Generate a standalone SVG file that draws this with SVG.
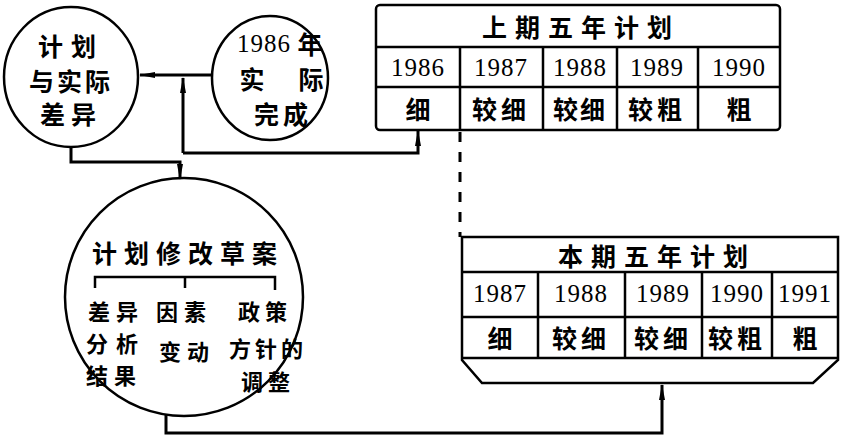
<svg xmlns="http://www.w3.org/2000/svg" width="841" height="436" viewBox="0 0 841 436">
<style>
.bg{fill:#fff}
.ln{fill:none;stroke:#000;stroke-width:2.5}
.cn{fill:none;stroke:#000;stroke-width:3}
.ds{fill:none;stroke:#000;stroke-width:3;stroke-dasharray:10 10}
.cj{font-family:"Noto Sans CJK SC","Noto Sans",sans-serif;font-weight:700;font-size:25px;fill:#000;text-anchor:middle;dominant-baseline:central}
.sm{font-size:22px}
.nm{font-family:"Liberation Serif","DejaVu Serif",serif;font-size:25px;fill:#000;text-anchor:middle;dominant-baseline:central;letter-spacing:1px}
</style>
<defs>
<marker id="ah" viewBox="0 0 16 8" markerWidth="16" markerHeight="8" refX="15" refY="4" orient="auto" markerUnits="userSpaceOnUse">
<path d="M0,1 L16,4 L0,7 Z" fill="#000"/>
</marker>
</defs>
<rect class="bg" x="0" y="0" width="841" height="436"/>

<g id="connectors">
<path class="cn" d="M212,75 H140" marker-end="url(#ah)"/>
<path class="cn" d="M183,153 V78" marker-end="url(#ah)"/>
<path class="cn" d="M183,153 H418 V131" marker-end="url(#ah)"/>
<path class="cn" d="M71,146 V162 H180 V179" marker-end="url(#ah)"/>
<path class="cn" d="M166,414 V433 H662 V385" marker-end="url(#ah)"/>
<path class="ds" d="M460,132 V237"/>
</g>

<g id="node-diff">
<ellipse class="ln" cx="71" cy="77" rx="67" ry="70"/>
<text class="cj" x="71" y="45" font-size="26" letter-spacing="8">计划</text>
<text class="cj" x="71" y="80" font-size="26" letter-spacing="3">与实际</text>
<text class="cj" x="71" y="113" font-size="26" letter-spacing="6">差异</text>
</g>

<g id="node-actual">
<ellipse class="ln" cx="270" cy="78" rx="58" ry="62"/>
<text class="nm" x="264" y="43" font-size="27">1986</text>
<text class="cj" x="310" y="43" font-size="26">年</text>
<text class="cj" x="252" y="78" font-size="26">实</text>
<text class="cj" x="311" y="78" font-size="26">际</text>
<text class="cj" x="283" y="113" font-size="26" letter-spacing="4">完成</text>
</g>

<g id="node-prev-plan">
<rect class="ln" x="376" y="5" width="404" height="125" rx="4"/>
<path class="ln" d="M376,47 H780 M376,87 H780 M460,47 V130 M543,47 V130 M617,47 V130 M698,47 V130"/>
<text class="cj" x="581" y="26" font-weight="400" letter-spacing="8">上期五年计划</text>
<text class="nm" x="418" y="67">1986</text>
<text class="nm" x="501" y="67">1987</text>
<text class="nm" x="580" y="67">1988</text>
<text class="nm" x="657" y="67">1989</text>
<text class="nm" x="739" y="67">1990</text>
<text class="cj" x="418" y="108">细</text>
<text class="cj" x="501" y="108" letter-spacing="4">较细</text>
<text class="cj" x="580" y="108" letter-spacing="2">较细</text>
<text class="cj" x="657" y="108" letter-spacing="4">较粗</text>
<text class="cj" x="739" y="108">粗</text>
</g>

<g id="node-curr-plan">
<path class="ln" d="M462,237 H838 V360 L813,383 H482 L462,360 Z"/>
<path class="ln" d="M462,272 H838 M462,317 H838 M462,358 H838 M538,272 V358 M625,272 V358 M702,272 V358 M772,272 V358"/>
<text class="cj" x="657" y="255" letter-spacing="8">本期五年计划</text>
<text class="nm" x="500" y="293">1987</text>
<text class="nm" x="581" y="293">1988</text>
<text class="nm" x="663" y="293">1989</text>
<text class="nm" x="737" y="293">1990</text>
<text class="nm" x="805" y="293" letter-spacing="0">1991</text>
<text class="cj" x="500" y="337">细</text>
<text class="cj" x="581" y="337" letter-spacing="4">较细</text>
<text class="cj" x="663" y="337" letter-spacing="4">较细</text>
<text class="cj" x="737" y="337" letter-spacing="4">较粗</text>
<text class="cj" x="805" y="337">粗</text>
</g>

<g id="node-revision">
<circle class="ln" cx="184" cy="297" r="119"/>
<text class="cj" x="188" y="252" letter-spacing="7">计划修改草案</text>
<path class="ln" d="M95,288 V277 H275 V290 M185,277 V288"/>
<text class="cj sm" x="116" y="310" letter-spacing="6">差异</text>
<text class="cj sm" x="116" y="342" letter-spacing="8">分析</text>
<text class="cj sm" x="114" y="374" letter-spacing="6">结果</text>
<text class="cj sm" x="184" y="310" letter-spacing="6">因素</text>
<text class="cj sm" x="187" y="350" letter-spacing="6">变动</text>
<text class="cj sm" x="265" y="310" letter-spacing="5">政策</text>
<text class="cj sm" x="268" y="347" letter-spacing="4">方针的</text>
<text class="cj sm" x="268" y="380" letter-spacing="5">调整</text>
</g>
</svg>
